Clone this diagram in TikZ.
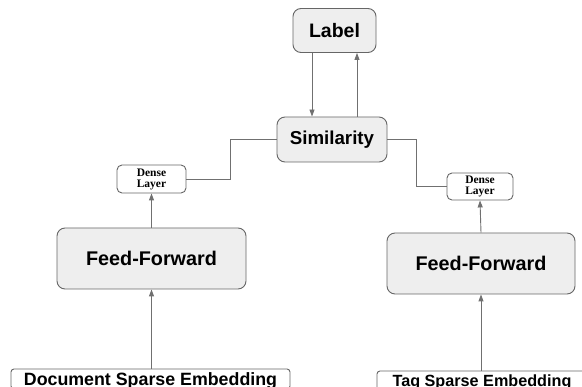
\documentclass[tikz,border=0pt]{standalone}
\usepackage{fontspec}
\setmainfont{Liberation Sans}
\newfontfamily\serifbf{Liberation Serif}
\usetikzlibrary{arrows.meta}
\definecolor{boxfill}{HTML}{EEEEEE}
\definecolor{boxdraw}{HTML}{666666}
\definecolor{linecol}{HTML}{707070}
\tikzset{
  bigbox/.style={draw=boxdraw, line width=0.9pt, fill=boxfill, rounded corners=8pt, inner sep=0pt, font=\bfseries},
  densebox/.style={draw=boxdraw, line width=0.9pt, fill=white, rounded corners=5pt, inner sep=0pt, align=center},
  embbox/.style={draw=boxdraw, line width=0.9pt, fill=white, rounded corners=3pt, inner sep=0pt, font=\bfseries},
  conn/.style={draw=linecol, line width=0.9pt},
  arr/.style={conn, -{Triangle[length=7pt,width=5pt]}}
}
\begin{document}
\begin{tikzpicture}[x=1pt,y=-1pt]
\useasboundingbox (0,0) rectangle (582,387);
\clip (0,0) rectangle (582,387);
\node[bigbox, minimum width=83pt, minimum height=44pt, font=\fontsize{19.5}{22}\selectfont\bfseries] (label) at (334.5,30.5) {Label};
\node[bigbox, minimum width=110pt, minimum height=45pt, font=\fontsize{18.7}{22}\selectfont\bfseries] (sim) at (332,139.5) {Similarity};
\node[densebox, minimum width=69pt, minimum height=28pt, font=\fontsize{11.5}{11}\selectfont\serifbf\bfseries] (dl) at (151.5,179) {Dense\\Layer};
\node[densebox, minimum width=66pt, minimum height=27pt, font=\fontsize{11.5}{11}\selectfont\serifbf\bfseries] (dr) at (480,186.5) {Dense\\Layer};
\node[bigbox, minimum width=189pt, minimum height=61pt, font=\fontsize{19.8}{22}\selectfont\bfseries] (ffl) at (151.5,258.5) {Feed-Forward};
\node[bigbox, minimum width=188pt, minimum height=61pt, font=\fontsize{19.8}{22}\selectfont\bfseries] (ffr) at (481,263.5) {Feed-Forward};
\node[embbox, minimum width=279pt, minimum height=20pt, text height=12.7pt, text depth=0pt, font=\fontsize{17.8}{20}\selectfont\bfseries] (doc) at (150.5,379) {Document Sparse Embedding};
\node[embbox, minimum width=210pt, minimum height=20pt, text height=11.6pt, text depth=0pt, font=\fontsize{16.2}{19}\selectfont\bfseries] (tag) at (482,381) {Tag Sparse Embedding};
\coordinate (xa) at (312,0);
\coordinate (xb) at (357,0);
\draw[arr] (label.south -| xa) -- (sim.north -| xa);
\draw[arr] (sim.north -| xb) -- (label.south -| xb);
\draw[conn] (sim.west) -- ++(-46,0) |- (dl.east);
\draw[conn] (sim.east) -- ++(29,0) |- (dr.west);
\draw[arr] (ffl.north) -- (dl.south);
\draw[arr] (ffr.north) -- (dr.south);
\draw[arr] (doc.north -| ffl.south) -- (ffl.south);
\draw[arr] (tag.north -| ffr.south) -- (ffr.south);
\end{tikzpicture}
\end{document}
